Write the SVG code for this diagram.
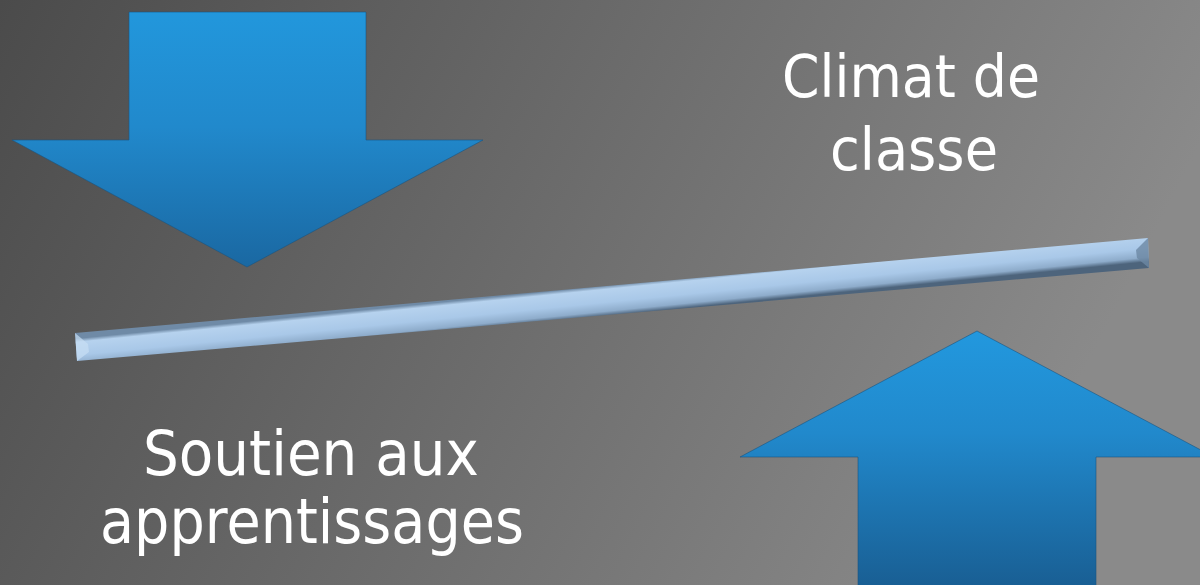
<svg xmlns="http://www.w3.org/2000/svg" width="1200" height="585" viewBox="0 0 1200 585">
  <defs>
    <linearGradient id="bg" x1="0" y1="0" x2="1" y2="0.25">
      <stop offset="0" stop-color="#4b4b4b"/>
      <stop offset="1" stop-color="#8a8a8a"/>
    </linearGradient>
    <linearGradient id="downFill" gradientUnits="userSpaceOnUse" x1="0" y1="12" x2="0" y2="267">
      <stop offset="0" stop-color="#2297dc"/>
      <stop offset="0.45" stop-color="#2189cc"/>
      <stop offset="1" stop-color="#1a68a2"/>
    </linearGradient>
    <linearGradient id="upFill" gradientUnits="userSpaceOnUse" x1="0" y1="331" x2="0" y2="585">
      <stop offset="0" stop-color="#2298de"/>
      <stop offset="0.4" stop-color="#2189cc"/>
      <stop offset="1" stop-color="#195f94"/>
    </linearGradient>
    <linearGradient id="barFill" gradientUnits="userSpaceOnUse" x1="612" y1="285" x2="615" y2="315">
      <stop offset="0" stop-color="#6f8aa6"/>
      <stop offset="0.12" stop-color="#b6d2ee"/>
      <stop offset="0.55" stop-color="#a9c8e8"/>
      <stop offset="0.85" stop-color="#8eaccb"/>
      <stop offset="1" stop-color="#4d647c"/>
    </linearGradient>
    <style>
      .lbl { font-family: "DejaVu Sans", Verdana, sans-serif; fill: #ffffff; text-anchor: middle; }
      .arrow { stroke: #1a5580; stroke-width: 1; stroke-opacity: 0.6; }
    </style>
  </defs>

  <rect width="1200" height="585" fill="url(#bg)"/>

  <g id="arrow-down">
    <polygon class="arrow" fill="url(#downFill)" points="129,12 366,12 366,140 483,140 247,267 12,140 129,140"/>
  </g>

  <g id="arrow-up">
    <polygon class="arrow" fill="url(#upFill)" points="977,331 1214,457 1096,457 1096,600 858,600 858,457 740,457"/>
  </g>

  <g id="balance-bar">
    <polygon fill="url(#barFill)" points="75,333 1148,238 1149,268 77,361"/>
    <polygon fill="#c8def4" fill-opacity="0.7" points="75,333 88,344 89,352 77,361"/>
    <polygon fill="#6d88a4" fill-opacity="0.8" points="1148,238 1149,268 1137,258 1136,250"/>
  </g>

  <g id="label-climat">
    <text class="lbl" x="911" y="97" font-size="59" textLength="258" lengthAdjust="spacingAndGlyphs">Climat de</text>
    <text class="lbl" x="914" y="170" font-size="59" textLength="168" lengthAdjust="spacingAndGlyphs">classe</text>
  </g>

  <g id="label-soutien">
    <text class="lbl" x="311" y="475" font-size="62" textLength="336" lengthAdjust="spacingAndGlyphs">Soutien aux</text>
    <text class="lbl" x="312" y="543" font-size="62" textLength="424" lengthAdjust="spacingAndGlyphs">apprentissages</text>
  </g>
</svg>
